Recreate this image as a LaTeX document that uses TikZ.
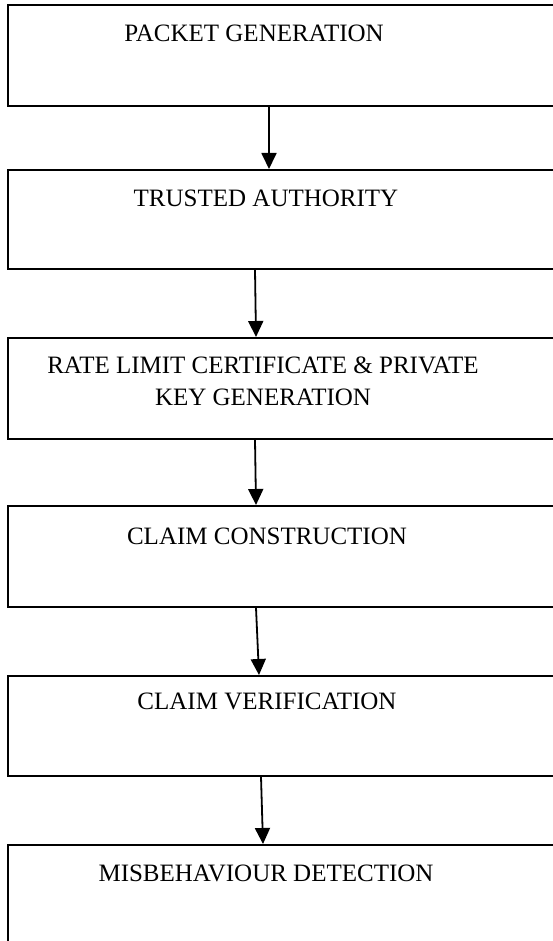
\documentclass[tikz,border=0pt]{standalone}
\usepackage{fontspec}
\setmainfont{Liberation Serif}
\usetikzlibrary{arrows.meta,calc}
\begin{document}
\begin{tikzpicture}[x=1pt,y=-1pt,
  stagebox/.style={draw=black,line width=1.8pt,rectangle,anchor=north west,minimum width=570pt,inner sep=0pt},
  lbl/.style={font=\fontsize{25}{32}\selectfont,align=center,inner sep=0pt,anchor=center},
  arr/.style={line width=1.8pt,-{Triangle[width=15pt,length=16pt]}}]
\clip (0,0) rectangle (553,941);
\useasboundingbox (0,0) rectangle (553,941);
\fill[white] (0,0) rectangle (553,941);
% boxes
\node[stagebox,minimum height=101pt] (b1) at (7,4) {};
\node[stagebox,minimum height=99pt]  (b2) at (7,169) {};
\node[stagebox,minimum height=101pt] (b3) at (7,337) {};
\node[stagebox,minimum height=101pt] (b4) at (7,505) {};
\node[stagebox,minimum height=100pt] (b5) at (7,675) {};
\node[stagebox,minimum height=110pt] (b6) at (7,844) {};
% texts
\node[lbl] (t1) at (254,33) {PACKET GENERATION};
\node[lbl] (t2) at (266,198) {TRUSTED AUTHORITY};
\node[lbl] (t3) at (263,381) {RATE LIMIT CERTIFICATE \& PRIVATE\\KEY GENERATION};
\node[lbl] (t4) at (267,536) {CLAIM CONSTRUCTION};
\node[lbl] (t5) at (267,701) {CLAIM VERIFICATION};
\node[lbl] (t6) at (266,873) {MISBEHAVIOUR DETECTION};
% connector end points
\coordinate (a1s) at (b1.south west -| 269,0);
\coordinate (a1e) at (b2.north west -| 269,0);
\coordinate (a2s) at (b2.south west -| 255,0);
\coordinate (a2e) at (b3.north west -| 256,0);
\coordinate (a3s) at (b3.south west -| 255,0);
\coordinate (a3e) at (b4.north west -| 256,0);
\coordinate (a4s) at (b4.south west -| 256,0);
\coordinate (a4e) at (b5.north west -| 259,0);
\coordinate (a5s) at (b5.south west -| 261,0);
\coordinate (a5e) at (b6.north west -| 263,0);
\draw[arr] (a1s) -- (a1e);
\draw[arr] (a2s) -- (a2e);
\draw[arr] (a3s) -- (a3e);
\draw[arr] (a4s) -- (a4e);
\draw[arr] (a5s) -- (a5e);
\end{tikzpicture}
\end{document}
